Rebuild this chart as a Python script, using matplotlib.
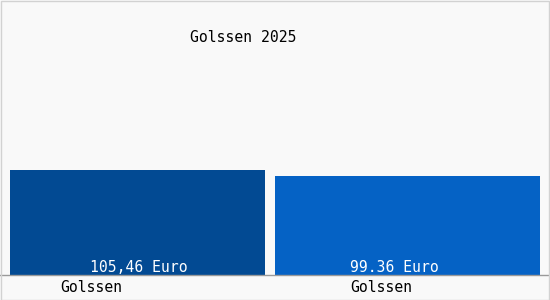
import matplotlib.pyplot as plt
from matplotlib.patches import Rectangle

# Daten
orte = ['Golssen', 'Golssen']
werte = [105.46, 99.36]
wert_texte = ['105,46 Euro', '99.36 Euro']
titel = 'Golssen 2025'

farben = ['#024a93', '#0562c5']
breiten = [255 / 270, 265 / 270]
schrift = 'DejaVu Sans Mono'

fig = plt.figure(figsize=(5.5, 3), dpi=100, facecolor='#f9f9f9')
ax = fig.add_axes([0, 25 / 300, 1, 275 / 300])
ax.set_facecolor('#f9f9f9')

pos = list(range(len(werte)))
ax.bar(pos, werte, width=breiten, color=farben, zorder=2)

ax.set_xlim(-137.5 / 270, (550 - 137.5) / 270)
ax.set_ylim(0, werte[0] * 275 / 105)

for s in ['top', 'left', 'right']:
    ax.spines[s].set_visible(False)
ax.spines['bottom'].set_color('#9a9a9a')
ax.spines['bottom'].set_linewidth(1)
ax.set_xticks([])
ax.set_yticks([])

# Werte in den Balken, Ortsnamen darunter
wert_dx = [1.5, -13.5]
ort_dx = [-46.5, -26.5]
for i in pos:
    ax.annotate(wert_texte[i], xy=(i, 0), xytext=(wert_dx[i], 7),
                textcoords='offset pixels', ha='center', va='center',
                color='white', fontsize=10.6, family=schrift, zorder=3)
    ax.annotate(orte[i], xy=(i, 0), xytext=(ort_dx[i], -13),
                textcoords='offset pixels', ha='center', va='center',
                color='black', fontsize=10.6, family=schrift,
                annotation_clip=False)

fig.text(243 / 550, 1 - 38 / 300, titel, ha='center', va='center',
         fontsize=10.6, family=schrift, color='black')

# Rahmen
fig.patches.append(Rectangle((0.5 / 550, 0.5 / 300), 548 / 550, 298.5 / 300,
                             transform=fig.transFigure, fill=False,
                             edgecolor='#d2d2d2', linewidth=1))

fig.savefig('out.png', dpi=100, facecolor=fig.get_facecolor())
